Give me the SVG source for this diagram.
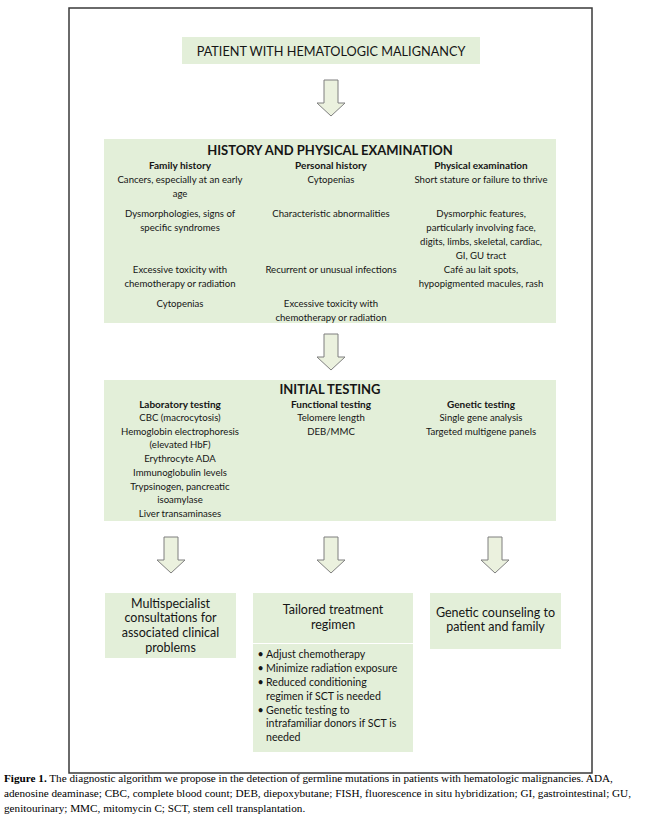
<svg xmlns="http://www.w3.org/2000/svg" width="652" height="822" viewBox="0 0 652 822">
<style>
.box{fill:#e3efd9;}
.arr{fill:#ebf1de;stroke:#7f7f7f;stroke-width:1;}
text{font-family:Lato,"Open Sans","Liberation Sans",sans-serif;fill:#151515;}
.c{text-anchor:middle;}
.h1{font-size:13px;font-weight:bold;}
.hd{font-size:10px;font-weight:bold;}
.b{font-size:9.6px;}
.big{font-size:12.5px;}
.li{font-size:10.6px;}
.cap{font-family:"Liberation Serif","Times New Roman",serif;font-size:11.2px;fill:#000;}
</style>
<defs>
<path id="arrow" class="arr" d="M-7,0 H7 V23 H14 L0,36 L-14,23 H-7 Z"/>
</defs>
<rect x="69" y="8" width="523" height="765" fill="#fff" stroke="#3a3a3a" stroke-width="1.5"/>

<g id="connectors">
<use href="#arrow" x="331" y="80"/>
<use href="#arrow" x="331" y="334"/>
<use href="#arrow" x="171" y="537"/>
<use href="#arrow" x="331" y="537"/>
<use href="#arrow" x="495" y="537"/>
</g>

<g id="patient">
<rect class="box" x="182" y="37" width="298" height="27"/>
<text class="c" x="331" y="55.5" font-size="12.7">PATIENT WITH HEMATOLOGIC MALIGNANCY</text>
</g>

<g id="history">
<rect class="box" x="104" y="139" width="452" height="184"/>
<text class="c h1" x="330" y="155">HISTORY AND PHYSICAL EXAMINATION</text>
<text class="c hd" x="180" y="168.5">Family history</text>
<text class="c hd" x="331" y="168.5">Personal history</text>
<text class="c hd" x="481" y="168.5">Physical examination</text>
<text class="c b" x="180" y="183">Cancers, especially at an early</text>
<text class="c b" x="180" y="196.5">age</text>
<text class="c b" x="180" y="217">Dysmorphologies, signs of</text>
<text class="c b" x="180" y="231">specific syndromes</text>
<text class="c b" x="180" y="273">Excessive toxicity with</text>
<text class="c b" x="180" y="287">chemotherapy or radiation</text>
<text class="c b" x="180" y="307">Cytopenias</text>
<text class="c b" x="331" y="183">Cytopenias</text>
<text class="c b" x="331" y="217">Characteristic abnormalities</text>
<text class="c b" x="331" y="273">Recurrent or unusual infections</text>
<text class="c b" x="331" y="307">Excessive toxicity with</text>
<text class="c b" x="331" y="320.5">chemotherapy or radiation</text>
<text class="c b" x="481" y="183">Short stature or failure to thrive</text>
<text class="c b" x="481" y="217">Dysmorphic features,</text>
<text class="c b" x="481" y="231">particularly involving face,</text>
<text class="c b" x="481" y="245">digits, limbs, skeletal, cardiac,</text>
<text class="c b" x="481" y="259">GI, GU tract</text>
<text class="c b" x="481" y="273">Café au lait spots,</text>
<text class="c b" x="481" y="287">hypopigmented macules, rash</text>
</g>

<g id="initial-testing">
<rect class="box" x="104" y="380" width="452" height="141"/>
<text class="c h1" x="330" y="393.5">INITIAL TESTING</text>
<text class="c hd" x="180" y="407.5">Laboratory testing</text>
<text class="c hd" x="331" y="407.5">Functional testing</text>
<text class="c hd" x="481" y="407.5">Genetic testing</text>
<text class="c b" x="180" y="421">CBC (macrocytosis)</text>
<text class="c b" x="180" y="434.7">Hemoglobin electrophoresis</text>
<text class="c b" x="180" y="448.4">(elevated HbF)</text>
<text class="c b" x="180" y="462">Erythrocyte ADA</text>
<text class="c b" x="180" y="475.8">Immunoglobulin levels</text>
<text class="c b" x="180" y="489.5">Trypsinogen, pancreatic</text>
<text class="c b" x="180" y="503.2">isoamylase</text>
<text class="c b" x="180" y="517">Liver transaminases</text>
<text class="c b" x="331" y="421">Telomere length</text>
<text class="c b" x="331" y="434.7">DEB/MMC</text>
<text class="c b" x="481" y="421">Single gene analysis</text>
<text class="c b" x="481" y="434.7">Targeted multigene panels</text>
</g>

<g id="multispecialist">
<rect class="box" x="105" y="593" width="131" height="65"/>
<text class="c big" x="170.5" y="607.5">Multispecialist</text>
<text class="c big" x="170.5" y="622.3">consultations for</text>
<text class="c big" x="170.5" y="637.1">associated clinical</text>
<text class="c big" x="170.5" y="651.9">problems</text>
</g>

<g id="tailored-treatment">
<rect class="box" x="253" y="593" width="160" height="50"/>
<rect class="box" x="253" y="644" width="160" height="108"/>
<text class="c big" x="333" y="614">Tailored treatment</text>
<text class="c big" x="333" y="628.5">regimen</text>
<text class="li" x="257.5" y="657.5">•</text><text class="li" x="266" y="657.5">Adjust chemotherapy</text>
<text class="li" x="257.5" y="671.8">•</text><text class="li" x="266" y="671.8">Minimize radiation exposure</text>
<text class="li" x="257.5" y="686">•</text><text class="li" x="266" y="686">Reduced conditioning</text>
<text class="li" x="266" y="699.5">regimen if SCT is needed</text>
<text class="li" x="257.5" y="713.5">•</text><text class="li" x="266" y="713.5">Genetic testing to</text>
<text class="li" x="266" y="727.3">intrafamiliar donors  if SCT is</text>
<text class="li" x="266" y="741">needed</text>
</g>

<g id="genetic-counseling">
<rect class="box" x="430" y="593" width="131" height="56"/>
<text class="c big" x="495.5" y="617">Genetic counseling to</text>
<text class="c big" x="495.5" y="631">patient and family</text>
</g>

<g id="caption">
<text class="cap" x="4" y="782"><tspan font-weight="bold">Figure 1.</tspan> The diagnostic algorithm we propose in the detection of germline mutations in patients with hematologic malignancies. ADA,</text>
<text class="cap" x="4" y="797">adenosine deaminase; CBC, complete blood count; DEB, diepoxybutane; FISH, fluorescence in situ hybridization; GI, gastrointestinal; GU,</text>
<text class="cap" x="4" y="812">genitourinary; MMC, mitomycin C; SCT, stem cell transplantation.</text>
</g>
</svg>
